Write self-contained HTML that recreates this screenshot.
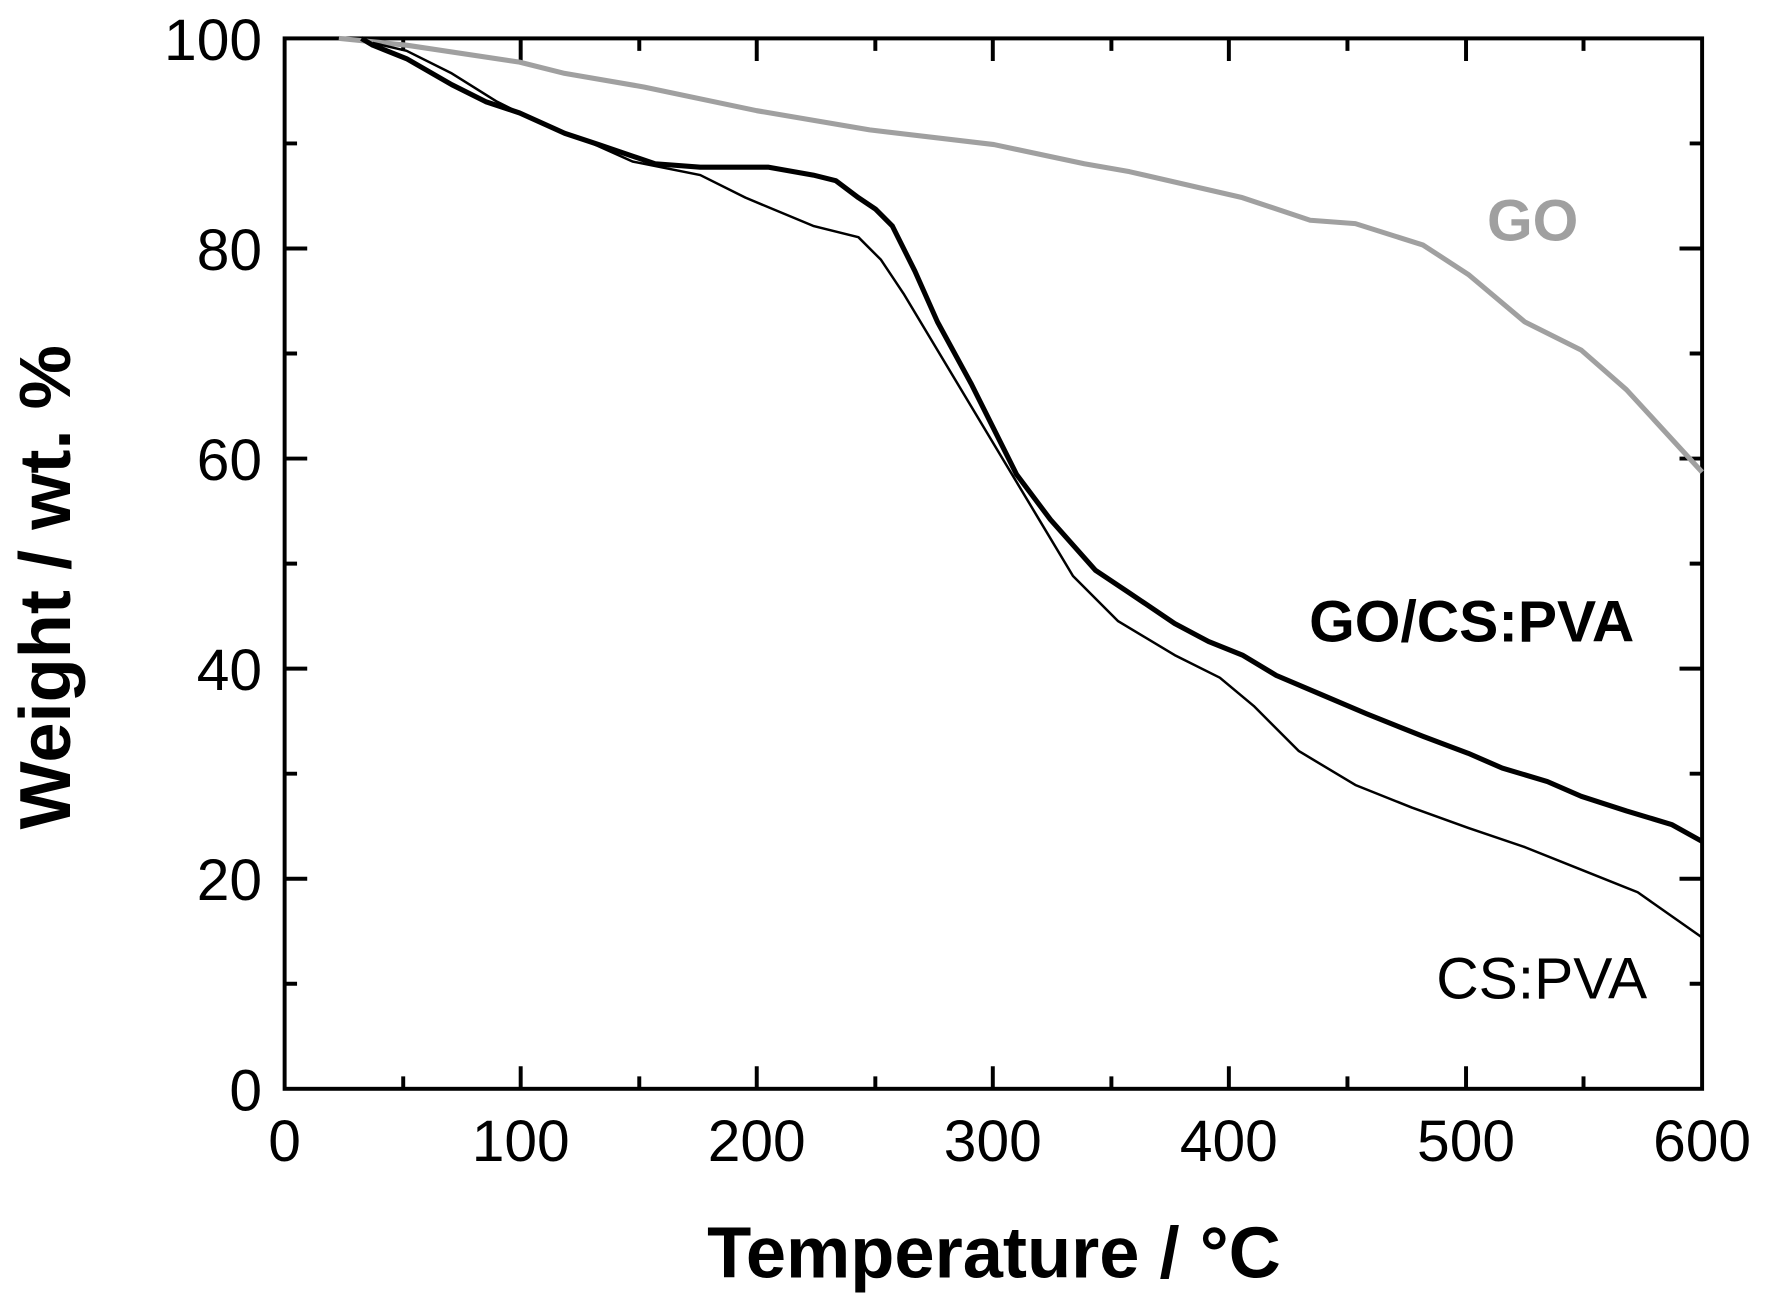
<!DOCTYPE html>
<html><head><style>html,body{margin:0;padding:0;background:#fff;}svg{display:block}</style></head>
<body>
<svg width="1771" height="1306" viewBox="0 0 1568 1156.3" xmlns="http://www.w3.org/2000/svg" font-family="'Liberation Sans', Arial, sans-serif">
<rect width="1568" height="1157" fill="#fff"/>
<g stroke="#000" stroke-width="3.5" fill="none">
<rect x="252" y="34" width="1255" height="930"/>
<path d="M461,964v-20M670,964v-20M879,964v-20M1088,964v-20M1298,964v-20M461,34v20M670,34v20M879,34v20M1088,34v20M1298,34v20"/>
<path d="M357,964v-11M566,964v-11M775,964v-11M984,964v-11M1193,964v-11M1402,964v-11M357,34v11M566,34v11M775,34v11M984,34v11M1193,34v11M1402,34v11"/>
<path d="M252,220h20M252,406h20M252,592h20M252,778h20M1507,220h-20M1507,406h-20M1507,592h-20M1507,778h-20"/>
<path d="M252,127h11M252,313h11M252,499h11M252,685h11M252,871h11M1507,127h-11M1507,313h-11M1507,499h-11M1507,685h-11M1507,871h-11"/>
</g>
<g font-size="52" fill="#000" text-anchor="end">
<text x="232" y="53">100</text><text x="232" y="239">80</text><text x="232" y="425">60</text><text x="232" y="611">40</text><text x="232" y="797">20</text><text x="232" y="983">0</text>
</g>
<g font-size="52" fill="#000" text-anchor="middle">
<text x="252" y="1028">0</text><text x="461" y="1028">100</text><text x="670" y="1028">200</text><text x="879" y="1028">300</text><text x="1088" y="1028">400</text><text x="1298" y="1028">500</text><text x="1507" y="1028">600</text>
</g>
<text x="880" y="1131" font-size="64" font-weight="bold" text-anchor="middle">Temperature / °C</text>
<text transform="translate(62,520) rotate(-90)" font-size="64" font-weight="bold" text-anchor="middle">Weight / wt. %</text>
<polyline fill="none" stroke="#a0a0a0" stroke-width="4.5" stroke-linejoin="round" points="300,34 360,40 460,55 500,65 570,77 670,98 770,115 880,128 960,145 1000,152 1100,175 1160,195 1200,198 1260,217 1300,243 1350,285 1400,310 1440,345 1507,418"/>
<polyline fill="none" stroke="#000" stroke-width="4.5" stroke-linejoin="round" points="320,34 330,40 360,52 400,75 430,90 460,100 500,118 530,128 580,145 620,148 680,148 720,155 740,160 760,175 775,185 790,200 810,240 830,285 860,340 880,380 900,420 930,460 970,505 1000,525 1040,552 1070,568 1100,580 1130,598 1170,615 1210,632 1260,652 1300,667 1330,680 1370,692 1400,705 1440,718 1480,730 1507,745"/>
<polyline fill="none" stroke="#000" stroke-width="2.2" stroke-linejoin="round" points="330,38 360,45 400,65 440,90 480,110 520,125 560,143 620,155 660,175 720,200 760,210 780,230 800,260 830,310 860,360 890,410 920,460 950,510 990,550 1040,580 1080,600 1110,625 1150,665 1200,695 1250,715 1300,733 1350,750 1400,770 1450,790 1507,830"/>
<text x="1357" y="213" font-size="52" font-weight="bold" fill="#a0a0a0" text-anchor="middle">GO</text>
<text x="1303" y="568" font-size="52" font-weight="bold" text-anchor="middle">GO/CS:PVA</text>
<text x="1365" y="884" font-size="52" text-anchor="middle">CS:PVA</text>
</svg>
</body></html>
